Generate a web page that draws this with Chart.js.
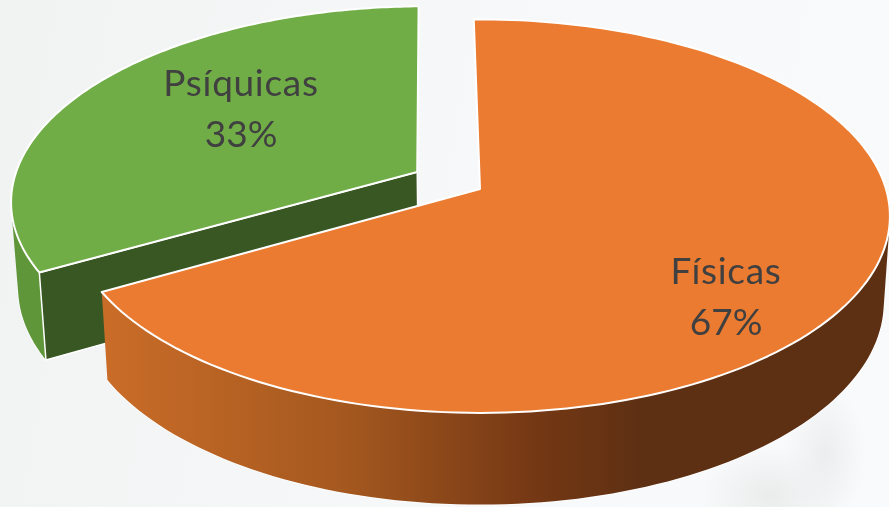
<!DOCTYPE html>
<html lang="es">
<head>
<meta charset="utf-8">
<title>Físicas y psíquicas</title>
<script src="https://cdn.jsdelivr.net/npm/chart.js@4"></script>
<style>
  html, body { margin: 0; padding: 0; }
  body {
    width: 889px;
    height: 507px;
    overflow: hidden;
    background:
      radial-gradient(ellipse 40px 70px at 825px 455px, #ecedee 0%, rgba(236,237,238,0) 100%),
      radial-gradient(ellipse 70px 50px at 770px 495px, #eaebeb 0%, rgba(234,235,235,0) 100%),
      linear-gradient(100deg, #f1f3f3 0%, #f8f9fa 60%, #f9fafb 100%);
  }
  canvas { display: block; }
</style>
</head>
<body>
<canvas id="pieChart" width="889" height="507"></canvas>
<script>
const categories = ["Físicas", "Psíquicas"];
const shares = [67, 33];
const topColors = ["#EA7B30", "#70AD47"];
const outerWallColors = [null, "#5F9639"];
const cutFaceColors = [null, "#385723"];
const pull = [0, 0.18];
const labelSpots = [[726, 272], [241, 84]];

// how the flat pie sits in the picture (tilted, with some perspective)
const view = { x: 480, y: 189, w: 406, k: 193, persp: 0.138 };
const base = { sx: 0.985, sy: 1.03, drop: 85 };

function project(px, py, level) {
  const d = 1 - view.persp * py;
  const sx = level ? base.sx : 1;
  const sy = level ? base.sy : 1;
  const drop = level ? base.drop : 0;
  return [view.x + view.w * sx * px / d, view.y + drop + view.k * sy * py / d];
}

function arcPoints(arc, cx, cy, level) {
  const pts = [];
  const steps = 160;
  for (let i = 0; i <= steps; i++) {
    const a = arc.startAngle + (arc.endAngle - arc.startAngle) * i / steps;
    pts.push(project(cx + Math.cos(a), cy + Math.sin(a), level));
  }
  return pts;
}

function fillPath(ctx, pts, fill, strokeWidth) {
  ctx.beginPath();
  pts.forEach((p, i) => i ? ctx.lineTo(p[0], p[1]) : ctx.moveTo(p[0], p[1]));
  ctx.closePath();
  ctx.fillStyle = fill;
  ctx.fill();
  ctx.lineWidth = strokeWidth;
  ctx.strokeStyle = "#ffffff";
  ctx.lineJoin = "round";
  ctx.stroke();
}

function quadArea(q) {
  let sum = 0;
  q.forEach((p, i) => {
    const n = q[(i + 1) % q.length];
    sum += p[0] * n[1] - n[0] * p[1];
  });
  return sum;
}

// wall as quads between the two rims in one path, all wound the same way
// so they don't cancel where the rim turns round at the sides
function drawWall(ctx, topEdge, lowEdge, fill) {
  ctx.beginPath();
  lowEdge.forEach((p, i) => i ? ctx.lineTo(p[0], p[1]) : ctx.moveTo(p[0], p[1]));
  ctx.lineWidth = 1.5;
  ctx.strokeStyle = "#ffffff";
  ctx.stroke();
  ctx.beginPath();
  for (let i = 0; i < topEdge.length - 1; i++) {
    const q = [topEdge[i], topEdge[i + 1], lowEdge[i + 1], lowEdge[i]];
    if (quadArea(q) < 0) q.reverse();
    q.forEach((p, n) => n ? ctx.lineTo(p[0], p[1]) : ctx.moveTo(p[0], p[1]));
    ctx.closePath();
  }
  ctx.fillStyle = fill;
  ctx.fill();
}

const pie3d = {
  id: "pie3d",
  beforeDatasetsDraw(chart) {
    const ctx = chart.ctx;
    const arcs = chart.getDatasetMeta(0).data;

    const wallFade = ctx.createLinearGradient(108, 0, 640, 0);
    wallFade.addColorStop(0, "#C96C28");
    wallFade.addColorStop(0.45, "#A4581F");
    wallFade.addColorStop(0.8, "#753814");
    wallFade.addColorStop(1, "#5E3013");

    // back slice first, the big one covers it
    [1, 0].forEach(i => {
      const arc = arcs[i];
      const mid = (arc.startAngle + arc.endAngle) / 2;
      const cx = pull[i] * Math.cos(mid);
      const cy = pull[i] * Math.sin(mid);
      const topEdge = arcPoints(arc, cx, cy, 0);
      const lowEdge = arcPoints(arc, cx, cy, 1);

      // only the rim that faces the viewer gets a wall
      const front = topEdge.map((p, n) => n).filter(n => lowEdge[n][1] > view.y);
      drawWall(ctx, front.map(n => topEdge[n]), front.map(n => lowEdge[n]), outerWallColors[i] || wallFade);

      if (cutFaceColors[i]) {
        fillPath(ctx, [
          project(cx, cy, 0),
          topEdge[0],
          lowEdge[0],
          project(cx, cy, 1)
        ], cutFaceColors[i], 1.5);
      }

      fillPath(ctx, [project(cx, cy, 0)].concat(topEdge), topColors[i], 2);
    });

    ctx.fillStyle = "#404040";
    ctx.font = "37px Lato";
    ctx.textAlign = "center";
    ctx.textBaseline = "middle";
    categories.forEach((name, i) => {
      ctx.letterSpacing = "0.7px";
      ctx.fillText(name, labelSpots[i][0], labelSpots[i][1]);
      ctx.letterSpacing = "0px";
      ctx.fillText(shares[i] + "%", labelSpots[i][0], labelSpots[i][1] + 51);
    });
    return false;
  }
};

new Chart(document.getElementById("pieChart"), {
  type: "pie",
  data: {
    labels: categories,
    datasets: [{
      data: shares,
      backgroundColor: topColors
    }]
  },
  options: {
    responsive: false,
    animation: false,
    rotation: -1,
    plugins: {
      legend: { display: false },
      tooltip: { enabled: false }
    }
  },
  plugins: [pie3d]
});
</script>
</body>
</html>
